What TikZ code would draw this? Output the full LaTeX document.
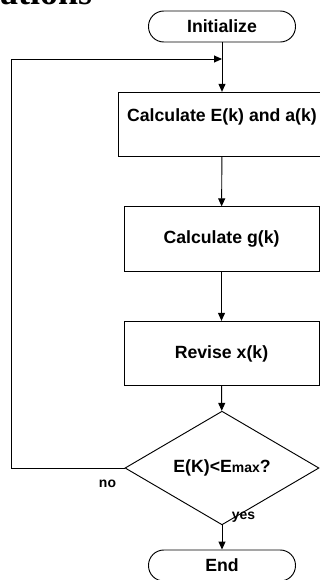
\documentclass[tikz,border=0pt]{standalone}
\usepackage{fontspec}
\setmainfont{Liberation Sans}
\newfontfamily\headfont{Liberation Serif}
\usetikzlibrary{shapes.geometric,arrows.meta}

\tikzset{
    flowline/.style={line width=0.8pt},
    flowarrow/.style={flowline, -{Triangle[length=2.4mm, width=2.1mm]}},
    terminal/.style={draw, flowline, rounded corners=0.46cm, minimum width=4.41cm, minimum height=0.93cm, inner sep=0pt},
    process/.style={draw, flowline, minimum width=5.85cm, minimum height=1.93cm, inner sep=0pt},
    decision/.style={draw, flowline, diamond, minimum width=5.82cm, minimum height=2.4cm, inner sep=0pt},
    boxtext/.style={font=\fontsize{15.1}{18}\selectfont\bfseries},
    labeltext/.style={font=\fontsize{11.9}{14}\selectfont\bfseries}
}

\begin{document}
\begin{tikzpicture}[x=0.03cm, y=-0.03cm]
    \useasboundingbox (0,0) rectangle (320,580);

    % clipped heading above the chart
    \node[anchor=base west, inner sep=0pt, font=\headfont\fontsize{30.7}{36}\selectfont\bfseries] (head) at (0,4) {ations};

    \node[terminal, boxtext] (init) at (222,26.5) {Initialize};
    \node[process, boxtext, minimum width=6.2cm, text depth=0.55cm] (calcea) at (222,124.5) {Calculate E(k) and a(k)};
    \node[process, boxtext] (calcg) at (221.5,239) {Calculate g(k)};
    \node[process, boxtext] (revise) at (221.5,353.5) {Revise x(k)};
    \node[decision, boxtext] (check) at (222,468) {E(K)<E{\fontsize{11.9}{14}\selectfont max}?};
    \node[terminal, boxtext] (stop) at (222,565.5) {End};

    \coordinate (loop) at (11,468);
    \coordinate (merge) at (222,59);

    \draw[flowarrow] (init) -- (calcea);
    \draw[flowarrow] (calcea) -- (calcg);
    \draw[flowarrow] (calcg) -- (revise);
    \draw[flowarrow] (revise) -- (check);
    \draw[flowarrow] (check) -- (stop);
    \draw[flowarrow] (check.west) -- (loop) |- (merge);

    \node[labeltext] (no) at (107.5,484) {no};
    \node[labeltext] (yes) at (243.5,517) {yes};

\end{tikzpicture}
\end{document}
